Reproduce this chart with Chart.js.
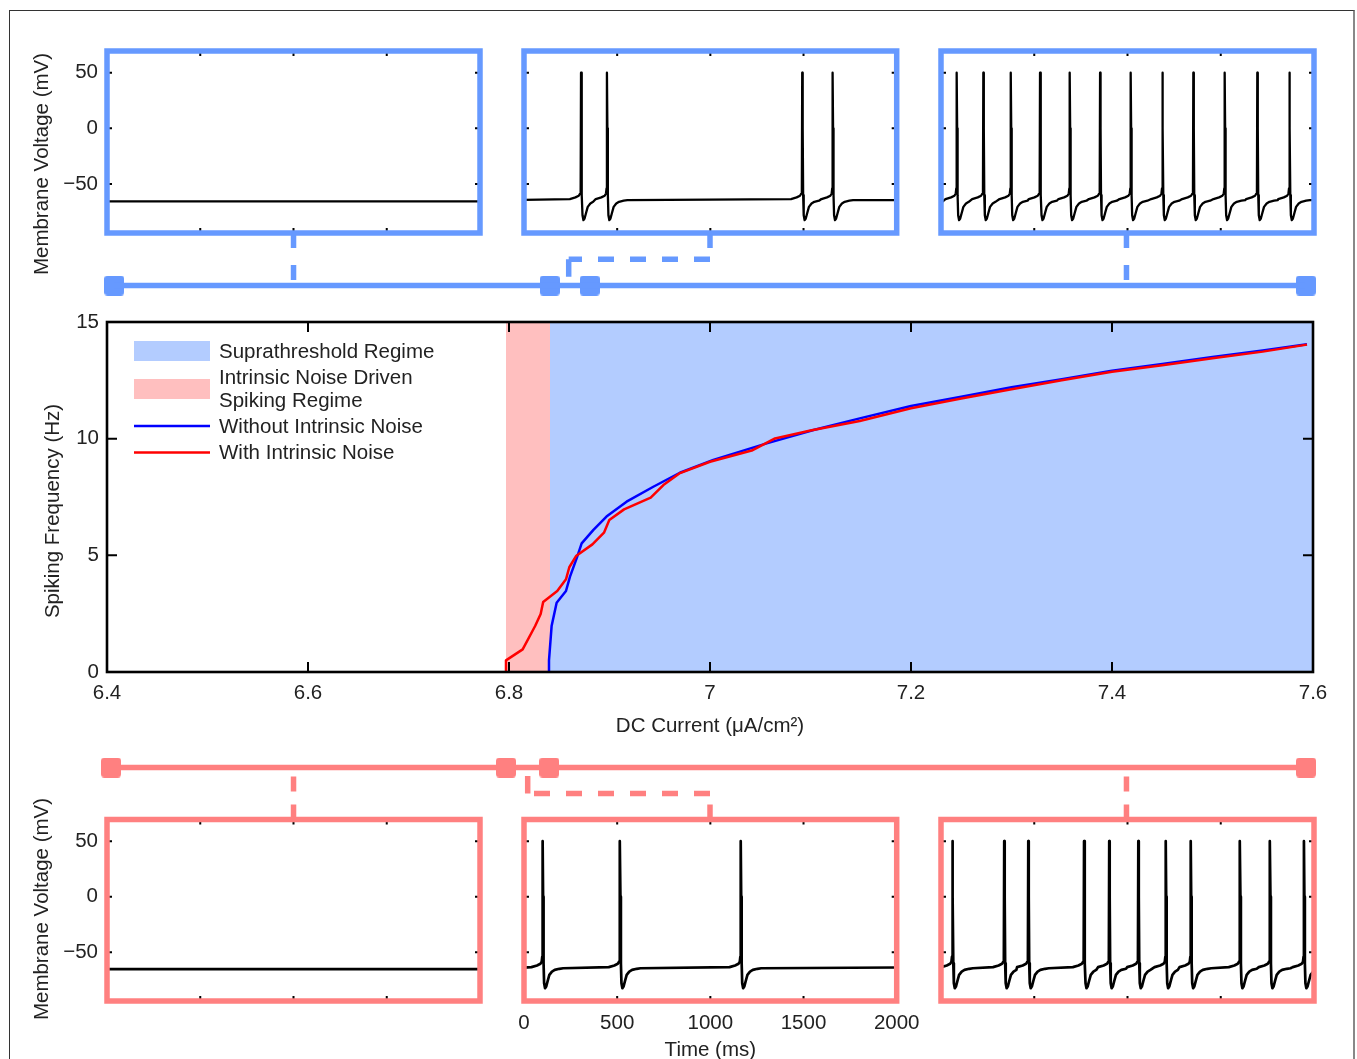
<!DOCTYPE html>
<html><head><meta charset="utf-8">
<script src="https://cdn.jsdelivr.net/npm/chart.js@4.4.1/dist/chart.umd.min.js"></script>
<style>
html,body{margin:0;padding:0;background:#fff;}
#fig{position:relative;width:1357px;height:1059px;overflow:hidden;background:#fff;}
#fig canvas{position:absolute;left:0;top:0;}
#frame{position:absolute;left:9px;top:10px;width:1343px;height:1100px;border-left:1.5px solid #333;border-top:1.5px solid #333;border-right:2px solid #888;}
</style></head><body>
<div id="fig"><div id="frame"></div>
<canvas id="cMain" width="1357" height="1059"></canvas>
<canvas id="cTopConn" width="1357" height="1059"></canvas>
<canvas id="cBotConn" width="1357" height="1059"></canvas>
<canvas id="cTL" width="1357" height="1059"></canvas>
<canvas id="cTM" width="1357" height="1059"></canvas>
<canvas id="cTR" width="1357" height="1059"></canvas>
<canvas id="cBL" width="1357" height="1059"></canvas>
<canvas id="cBM" width="1357" height="1059"></canvas>
<canvas id="cBR" width="1357" height="1059"></canvas>
</div>
<script>
// ---------------- DATA ----------------
const currentNoNoise = [6.8391, 6.8398, 6.8424, 6.8474, 6.8567, 6.8607, 6.8673, 6.8723, 6.884, 6.897, 6.917, 6.9436, 6.970, 7.0033, 7.0564, 7.103, 7.149, 7.2, 7.25, 7.3, 7.35, 7.4, 7.45, 7.5, 7.55, 7.594];
const freqNoNoise    = [0, 0.5, 1.97, 2.97, 3.47, 4.09, 4.87, 5.51, 6.09, 6.66, 7.3, 7.94, 8.54, 9.09, 9.8, 10.37, 10.87, 11.4, 11.8, 12.2, 12.55, 12.91, 13.2, 13.5, 13.78, 14.05];
const currentNoise   = [6.797, 6.797, 6.8136, 6.826, 6.8315, 6.834, 6.848, 6.8567, 6.86, 6.8667, 6.883, 6.8945, 6.8998, 6.9145, 6.941, 6.9536, 6.9695, 7.0, 7.0415, 7.0647, 7.1, 7.149, 7.2, 7.25, 7.3, 7.35, 7.4, 7.45, 7.5, 7.55, 7.594];
const freqNoise      = [0, 0.5, 0.97, 1.97, 2.49, 3.0, 3.47, 3.97, 4.49, 4.97, 5.47, 5.97, 6.51, 6.97, 7.47, 8.01, 8.51, 9.01, 9.49, 10.01, 10.35, 10.76, 11.3, 11.72, 12.12, 12.5, 12.87, 13.15, 13.45, 13.73, 14.03];
const noiseRegime = [6.797, 6.8408];
const supraRegime = [6.8408, 7.6];
const freqMax = 15;

const xTickValues = [6.4, 6.6, 6.8, 7.0, 7.2, 7.4, 7.6];
const xTickLabels = ['6.4', '6.6', '6.8', '7', '7.2', '7.4', '7.6'];
const yTickValues = [0, 5, 10, 15];
const yTickLabels = ['0', '5', '10', '15'];
const timeTickValues = [0, 500, 1000, 1500, 2000];
const timeTickLabels = ['0', '500', '1000', '1500', '2000'];
const voltTickValues = [-50, 0, 50];
const voltTickLabels = ['\u221250', '0', '50'];

// spike waveform (ms relative to peak, mV)
const spikeTemplateT = [-60, -30, -12, -5, -2, 0, 2.5, 5, 8, 13, 19, 27, 36, 50, 65, 90, 110];
const spikeTemplateV = [-63.5, -62, -60.5, -58.5, -54, 50, 0, -60, -78, -82.5, -81, -76, -70.5, -67.5, -66, -65, -64.5];

// spike peak times (ms) per panel
const spikesTopLeft  = [];
const spikesTopMid   = [306, 445, 1493, 1656];
const spikesTopRight = [84, 227, 374, 531, 690, 853, 1017, 1187, 1353, 1521, 1696, 1868];
const spikesBotLeft  = [];
const spikesBotMid   = [100, 515, 1163];
const spikesBotRight = [61, 339, 468, 767, 902, 1058, 1205, 1339, 1603, 1764, 1946];
// start / end voltages per panel (mV)
const startV = {TL: -65.5, TM: -64.3, TR: -67, BL: -65.3, BM: -64, BR: -67.5};
const endV   = {TL: -65.5, TM: -64.4, TR: -64.5, BL: -65.3, BM: -63.8, BR: -64};

// connector bars (DC current values)
const topSquares = [6.4072, 6.8405, 6.8803, 7.5929];
const botSquares = [6.4040, 6.797, 6.840, 7.593];
const panelCurrents = [6.5856, 7.0, 7.4144];
const topElbowCurrent = 6.8594;
const botElbowCurrent = 6.8186;

// ---------------- STYLE ----------------
const FONT = "'Liberation Sans', Arial, Helvetica, sans-serif";
const FS = 20.5;
const TXT = '#222222';
const BLUE_FRAME = '#6699ff', PINK_FRAME = '#ff8080';
const BLUE_FILL = '#b3ccff', PINK_FILL = '#ffbfbf';
Chart.defaults.font.family = FONT;
Chart.defaults.font.size = FS;
Chart.defaults.color = TXT;

const tMax = 2000, vMin = -94, vMax = 69.5;

function buildTrace(spikes, v0, v1) {
  const pts = [{x: 0, y: v0}];
  const pre0 = spikeTemplateT[0];
  spikes.forEach((s, k) => {
    const next = k + 1 < spikes.length ? spikes[k + 1] : Infinity;
    spikeTemplateT.forEach((dt, j) => {
      const t = s + dt;
      if (t <= pts[pts.length - 1].x) return;
      if (dt > 0 && t >= next + pre0) return;
      pts.push({x: t, y: spikeTemplateV[j]});
    });
  });
  if (pts[pts.length - 1].x < tMax) pts.push({x: tMax, y: v1});
  return pts;
}

function makeBox(color, width, tickLen, tickWidth, xTicks, yTicks) {
  return {
    id: 'boxFrame',
    afterDatasetsDraw(chart) {
      const {ctx, chartArea: a, scales} = chart;
      ctx.save();
      ctx.strokeStyle = '#000'; ctx.lineWidth = tickWidth; ctx.lineCap = 'butt';
      ctx.beginPath();
      xTicks.forEach(v => { const p = scales.x.getPixelForValue(v);
        ctx.moveTo(p, a.top); ctx.lineTo(p, a.top + tickLen);
        ctx.moveTo(p, a.bottom); ctx.lineTo(p, a.bottom - tickLen); });
      yTicks.forEach(v => { const p = scales.y.getPixelForValue(v);
        ctx.moveTo(a.left, p); ctx.lineTo(a.left + tickLen, p);
        ctx.moveTo(a.right, p); ctx.lineTo(a.right - tickLen, p); });
      ctx.stroke();
      ctx.strokeStyle = color; ctx.lineWidth = width; ctx.lineJoin = 'miter';
      ctx.strokeRect(a.left, a.top, a.right - a.left, a.bottom - a.top);
      ctx.restore();
    }
  };
}

function makeYTitle(text, cx, cy) {
  return {
    id: 'yTitle',
    afterDraw(chart) {
      const ctx = chart.ctx;
      ctx.save();
      ctx.translate(cx, cy); ctx.rotate(-Math.PI / 2);
      ctx.font = FS + 'px ' + FONT; ctx.fillStyle = TXT;
      ctx.textAlign = 'center'; ctx.textBaseline = 'middle';
      ctx.fillText(text, 0, 0);
      ctx.restore();
    }
  };
}

function makeLegend(rows) {
  return {
    id: 'figLegend',
    afterDatasetsDraw(chart) {
      const ctx = chart.ctx;
      ctx.save();
      ctx.font = FS + 'px ' + FONT; ctx.textAlign = 'left'; ctx.textBaseline = 'middle';
      rows.forEach(r => {
        const ds = chart.data.datasets[r.index];
        if (r.kind === 'patch') {
          ctx.fillStyle = ds.backgroundColor;
          ctx.fillRect(134, r.cy - 10, 76, 20);
        } else {
          ctx.strokeStyle = ds.borderColor; ctx.lineWidth = 2.3;
          ctx.beginPath(); ctx.moveTo(134, r.cy); ctx.lineTo(210, r.cy); ctx.stroke();
        }
        ctx.fillStyle = TXT;
        const lines = ds.label.split('\n');
        lines.forEach((ln, i) => ctx.fillText(ln, 219, r.cy + 1 + (i - (lines.length - 1) / 2) * 23.5));
      });
      ctx.restore();
    }
  };
}

function makeSquare(color) {
  const c = document.createElement('canvas'); c.width = 20; c.height = 20;
  const g = c.getContext('2d'); const r = 3.5, s = 20;
  g.fillStyle = color; g.beginPath();
  g.moveTo(r, 0); g.lineTo(s - r, 0); g.arcTo(s, 0, s, r, r); g.lineTo(s, s - r);
  g.arcTo(s, s, s - r, s, r); g.lineTo(r, s); g.arcTo(0, s, 0, s - r, r);
  g.lineTo(0, r); g.arcTo(0, 0, r, 0, r); g.closePath(); g.fill();
  return c;
}

const baseOpts = {responsive: false, animation: false, devicePixelRatio: 1, events: []};
const noPlug = {legend: {display: false}, tooltip: {enabled: false}};

// ---------------- MAIN CHART ----------------
new Chart(document.getElementById('cMain'), {
  type: 'line',
  data: {datasets: [
    {label: 'With Intrinsic Noise', data: currentNoise.map((x, i) => ({x, y: freqNoise[i]})),
     borderColor: '#ff0000', borderWidth: 2.5, pointRadius: 0, fill: false, order: 0, borderJoinStyle: 'round'},
    {label: 'Without Intrinsic Noise', data: currentNoNoise.map((x, i) => ({x, y: freqNoNoise[i]})),
     borderColor: '#0000ff', borderWidth: 2.5, pointRadius: 0, fill: false, order: 1, borderJoinStyle: 'round'},
    {label: 'Suprathreshold Regime', data: supraRegime.map(x => ({x, y: freqMax})),
     borderColor: 'rgba(0,0,0,0)', borderWidth: 0, backgroundColor: BLUE_FILL, fill: 'origin', pointRadius: 0, order: 2},
    {label: 'Intrinsic Noise Driven\nSpiking Regime', data: noiseRegime.map(x => ({x, y: freqMax})),
     borderColor: 'rgba(0,0,0,0)', borderWidth: 0, backgroundColor: PINK_FILL, fill: 'origin', pointRadius: 0, order: 3}
  ]},
  options: Object.assign({}, baseOpts, {
    layout: {padding: {left: 0, right: 44, top: 322, bottom: 317}},
    plugins: noPlug,
    scales: {
      x: {type: 'linear', min: 6.4, max: 7.6,
          grid: {display: false, drawTicks: false}, border: {display: false},
          ticks: {padding: 9, autoSkip: false, maxRotation: 0, minRotation: 0, color: TXT, font: {size: FS},
                  callback: (v, i) => xTickLabels[i]},
          afterBuildTicks: s => { s.ticks = xTickValues.map(v => ({value: v})); },
          afterFit: s => { s.height = 70; },
          title: {display: true, text: 'DC Current (\u03bcA/cm\u00b2)', color: TXT, font: {size: FS}, padding: {top: 0, bottom: 3}}},
      y: {type: 'linear', min: 0, max: 15,
          grid: {display: false, drawTicks: false}, border: {display: false},
          ticks: {padding: 8, autoSkip: false, color: TXT, font: {size: FS}, callback: (v, i) => yTickLabels[i]},
          afterBuildTicks: s => { s.ticks = yTickValues.map(v => ({value: v})); },
          afterFit: s => { s.width = 107; }}
    }
  }),
  plugins: [
    makeBox('#000', 2.6, 10, 2, xTickValues.slice(1, -1), yTickValues.slice(1, -1)),
    makeLegend([{index: 2, kind: 'patch', cy: 351}, {index: 3, kind: 'patch', cy: 389}, {index: 1, kind: 'line', cy: 426}, {index: 0, kind: 'line', cy: 452.5}]),
    makeYTitle('Spiking Frequency (Hz)', 53, 511)
  ]
});

// ---------------- CONNECTORS ----------------
function connChart(id, color, squares, barY, panelY, elbowY, elbowX, topSide, padTop, padBottom) {
  const sq = makeSquare(color);
  const ds = [];
  const line = (pts, dash) => ({data: pts, borderColor: color, borderWidth: 5.5, borderDash: dash, pointRadius: 0, clip: false, fill: false, borderCapStyle: 'butt'});
  ds.push(line([{x: squares[0], y: barY}, {x: squares[squares.length - 1], y: barY}], []));
  ds.push({data: squares.map(x => ({x, y: barY})), showLine: false, pointStyle: sq, pointRadius: 10, pointBorderWidth: 0, clip: false});
  ds.push(line([{x: panelCurrents[0], y: panelY}, {x: panelCurrents[0], y: barY}], topSide ? [15, 17] : [15, 13]));
  ds.push(line([{x: panelCurrents[2], y: panelY}, {x: panelCurrents[2], y: barY}], topSide ? [15, 17] : [15, 13]));
  ds.push(line([{x: panelCurrents[1], y: panelY}, {x: panelCurrents[1], y: elbowY}], topSide ? [15, 17] : [15, 13]));
  ds.push(line([{x: panelCurrents[1], y: elbowY}, {x: elbowX, y: elbowY}], [16, 16]));
  ds.push(line([{x: elbowX, y: elbowY}, {x: elbowX, y: barY}], [17.5, 200]));
  return new Chart(document.getElementById(id), {
    type: 'line', data: {datasets: ds},
    options: Object.assign({}, baseOpts, {
      layout: {padding: {left: 107, right: 44, top: padTop, bottom: padBottom}},
      plugins: noPlug,
      scales: {x: {type: 'linear', min: 6.4, max: 7.6, display: false},
               y: {type: 'linear', min: 0, max: 1, display: false}}
    })
  });
}
connChart('cTopConn', BLUE_FRAME, topSquares, 0, 1, 0.5, topElbowCurrent, true, 233, 1059 - 285.5);
connChart('cBotConn', PINK_FRAME, botSquares, 1, 0, 0.5, botElbowCurrent, false, 767.5, 1059 - 819.5);

// ---------------- VOLTAGE PANELS ----------------
function panel(id, spikes, key, frameColor, area, opts) {
  const showY = opts.showY, showX = opts.showX;
  const plugins = [makeBox(frameColor, 5.5, 5, 2, [500, 1000, 1500], voltTickValues)];
  if (opts.yTitleY) plugins.push(makeYTitle('Membrane Voltage (mV)', 42, opts.yTitleY));
  const xAxisH = 55;
  return new Chart(document.getElementById(id), {
    type: 'line',
    data: {datasets: [{data: buildTrace(spikes, startV[key], endV[key]), borderColor: '#000',
      borderWidth: opts.lw, pointRadius: 0, fill: false, borderJoinStyle: 'round', tension: 0}]},
    options: Object.assign({}, baseOpts, {
      layout: {padding: {left: showY ? 0 : area.l, right: 1357 - area.r, top: area.t,
                         bottom: showX ? 1059 - area.b - xAxisH : 1059 - area.b}},
      plugins: noPlug,
      scales: {
        x: {type: 'linear', min: 0, max: tMax, display: showX,
            grid: {display: false, drawTicks: false}, border: {display: false},
            ticks: {padding: 10, autoSkip: false, maxRotation: 0, color: TXT, font: {size: FS}, callback: (v, i) => timeTickLabels[i]},
            afterBuildTicks: s => { s.ticks = timeTickValues.map(v => ({value: v})); },
            afterFit: s => { s.height = showX ? xAxisH : 0; },
            title: {display: true, text: 'Time (ms)', color: TXT, font: {size: FS}, padding: {top: 0, bottom: -7}}},
        y: {type: 'linear', min: vMin, max: vMax, display: showY,
            grid: {display: false, drawTicks: false}, border: {display: false},
            ticks: {padding: 9, autoSkip: false, color: TXT, font: {size: FS}, callback: (v, i) => voltTickLabels[i]},
            afterBuildTicks: s => { s.ticks = voltTickValues.map(v => ({value: v})); },
            afterFit: s => { s.width = showY ? area.l : 0; }}
      }
    }),
    plugins
  });
}
const topA = (l, r) => ({l, r, t: 51, b: 233});
const botA = (l, r) => ({l, r, t: 819.5, b: 1001});
panel('cTL', spikesTopLeft,  'TL', BLUE_FRAME, topA(107, 480),   {showY: true,  showX: false, lw: 2.3, yTitleY: 164});
panel('cTM', spikesTopMid,   'TM', BLUE_FRAME, topA(524, 896.7), {showY: false, showX: false, lw: 2.3});
panel('cTR', spikesTopRight, 'TR', BLUE_FRAME, topA(941, 1314),  {showY: false, showX: false, lw: 2.3});
panel('cBL', spikesBotLeft,  'BL', PINK_FRAME, botA(107, 480),   {showY: true,  showX: false, lw: 2.7, yTitleY: 909});
panel('cBM', spikesBotMid,   'BM', PINK_FRAME, botA(524, 896.7), {showY: false, showX: true,  lw: 2.7});
panel('cBR', spikesBotRight, 'BR', PINK_FRAME, botA(941, 1314),  {showY: false, showX: false, lw: 2.7});
</script>
</body></html>
